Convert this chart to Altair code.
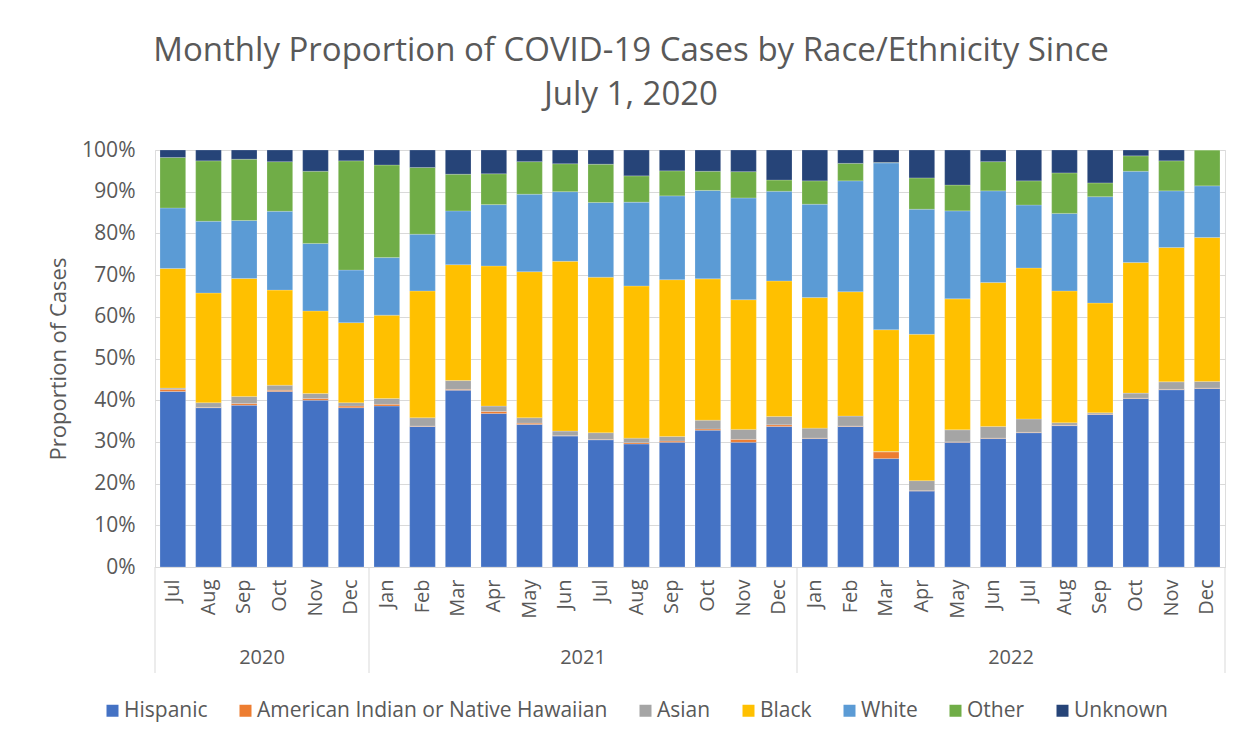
import altair as alt
import pandas as pd

# ---------------- data ----------------
months = (["Jul", "Aug", "Sep", "Oct", "Nov", "Dec"]
          + ["Jan", "Feb", "Mar", "Apr", "May", "Jun", "Jul", "Aug", "Sep", "Oct", "Nov", "Dec"] * 2)
years = ["2020"] * 6 + ["2021"] * 12 + ["2022"] * 12

series_names = ["Hispanic", "American Indian or Native Hawaiian", "Asian",
                "Black", "White", "Other", "Unknown"]
series_colors = ["#4472C4", "#ED7D31", "#A5A5A5", "#FFC000", "#5B9BD5", "#70AD47", "#264478"]

# percent of cases per month (each month sums to ~100)
hispanic = [42.1, 38.2, 38.8, 42.1, 40.0, 38.2,
            38.6, 33.7, 42.4, 36.8, 34.2, 31.4, 30.5, 29.5, 29.9, 32.8, 29.9, 33.7,
            30.8, 33.7, 26.0, 18.2, 29.9, 30.8, 32.2, 33.9, 36.6, 40.4, 42.5, 42.8]
am_indian = [0.5, 0.1, 0.4, 0.3, 0.4, 0.4,
             0.4, 0.1, 0.2, 0.5, 0.3, 0.1, 0.1, 0.3, 0.3, 0.3, 0.7, 0.4,
             0.1, 0.1, 1.6, 0.1, 0.1, 0.1, 0.1, 0.1, 0.1, 0.1, 0.1, 0.1]
asian = [0.3, 1.1, 1.7, 1.2, 1.2, 0.8,
         1.4, 2.0, 2.1, 1.3, 1.3, 1.1, 1.6, 1.1, 1.1, 2.1, 2.4, 2.0,
         2.4, 2.4, 0.1, 2.4, 2.9, 2.8, 3.2, 0.6, 0.3, 1.2, 1.8, 1.6]
black = [28.7, 26.3, 28.3, 22.8, 19.8, 19.2,
         20.0, 30.4, 27.8, 33.6, 35.0, 40.7, 37.3, 36.5, 37.6, 33.9, 31.1, 32.5,
         31.3, 29.8, 29.2, 35.1, 31.4, 34.5, 36.2, 31.6, 26.3, 31.3, 32.2, 34.5]
white = [14.5, 17.2, 13.9, 18.9, 16.2, 12.6,
         13.8, 13.6, 12.9, 14.7, 18.6, 16.7, 17.9, 20.1, 20.1, 21.2, 24.4, 21.5,
         22.4, 26.6, 40.0, 30.0, 21.1, 22.0, 15.1, 18.6, 25.5, 21.9, 13.6, 12.4]
other = [12.1, 14.5, 14.7, 11.9, 17.3, 26.2,
         22.2, 16.0, 8.8, 7.4, 7.8, 6.7, 9.2, 6.3, 6.0, 4.6, 6.3, 2.7,
         5.6, 4.2, 0.1, 7.5, 6.2, 7.0, 5.8, 9.7, 3.3, 3.7, 7.2, 8.6]
unknown = [1.8, 2.6, 2.2, 2.8, 5.1, 2.6,
           3.6, 4.2, 5.8, 5.7, 2.8, 3.3, 3.4, 6.2, 5.0, 5.1, 5.2, 7.2,
           7.4, 3.2, 3.0, 6.7, 8.4, 2.8, 7.4, 5.5, 7.9, 1.4, 2.6, 0.0]

all_series = [hispanic, am_indian, asian, black, white, other, unknown]

year_labels = ["2020", "2021", "2022"]
year_counts = [6, 12, 12]

y_ticks = [0, 0.1, 0.2, 0.3, 0.4, 0.5, 0.6, 0.7, 0.8, 0.9, 1.0]

# ---------------- tables ----------------
keys = [f"{y} {m}" for y, m in zip(years, months)]
rows = []
for i, key in enumerate(keys):
    for k, (name, vals) in enumerate(zip(series_names, all_series)):
        rows.append({"key": key, "series": name, "ord": k, "value": vals[i]})
df = pd.DataFrame(rows)

bounds = [0]
for c in year_counts:
    bounds.append(bounds[-1] + c)
sep_df = pd.DataFrame({"pos": bounds})
yr_df = pd.DataFrame({"year": year_labels,
                      "mid": [(bounds[i] + bounds[i + 1]) / 2 for i in range(len(year_labels))]})

W, H = 1070, 417
FONT = "Open Sans"
TXT = "#595959"
GRID = "#d9d9d9"

bars = alt.Chart(df).mark_bar(stroke="white", strokeWidth=0.4, strokeOpacity=0.5).encode(
    x=alt.X("key:N", sort=keys,
            scale=alt.Scale(paddingInner=0.28, paddingOuter=0.14),
            axis=alt.Axis(title=None, labelExpr="split(datum.label, ' ')[1]",
                          labelAngle=-90, labelPadding=12, ticks=False,
                          domainColor=GRID, domainWidth=1,
                          labelFontSize=20, labelFont=FONT, labelColor=TXT)),
    y=alt.Y("value:Q", stack="normalize",
            scale=alt.Scale(domain=[0, 1], nice=False),
            axis=alt.Axis(values=y_ticks, format=".0%", title="Proportion of Cases",
                          titleFontSize=22, titleFont=FONT, titleColor=TXT,
                          titleFontWeight="normal", titlePadding=11,
                          labelFontSize=21, labelFont=FONT, labelColor=TXT,
                          labelPadding=20, ticks=False, domain=False,
                          gridColor=GRID, gridWidth=1)),
    color=alt.Color("series:N",
                    scale=alt.Scale(domain=series_names, range=series_colors),
                    legend=alt.Legend(title=None, orient="none", direction="horizontal",
                                      legendX=-53, legendY=550,
                                      symbolType="square", symbolSize=144,
                                      symbolStrokeWidth=0, labelFontSize=21,
                                      labelFont=FONT, labelColor=TXT, labelLimit=0,
                                      labelOffset=1, columnPadding=27)),
    order=alt.Order("ord:Q", sort="ascending"),
)

xq = alt.Scale(domain=[0, bounds[-1]], nice=False, zero=False)

seps = alt.Chart(sep_df).mark_rule(color=GRID, strokeWidth=1).encode(
    x=alt.X("pos:Q", scale=xq, axis=None),
    y=alt.value(H),
    y2=alt.value(H + 106),
)

yrs = alt.Chart(yr_df).mark_text(font=FONT, fontSize=20, color=TXT, baseline="middle").encode(
    x=alt.X("mid:Q", scale=xq, axis=None),
    y=alt.value(H + 91),
    text="year:N",
)

chart = alt.layer(bars, seps, yrs).resolve_scale(x="independent").properties(
    width=W, height=H,
    autosize="none",
    padding={"left": 147, "top": 142, "right": 20, "bottom": 160},
    title=alt.TitleParams(
        text=["Monthly Proportion of COVID-19 Cases by Race/Ethnicity Since", "July 1, 2020"],
        fontSize=33, font=FONT, color=TXT, fontWeight="normal",
        lineHeight=44, anchor="middle", dx=-59, offset=27),
).configure_view(stroke=None).configure(background="white")

chart.save("out.html", embed_options={"renderer": "svg", "actions": False})
